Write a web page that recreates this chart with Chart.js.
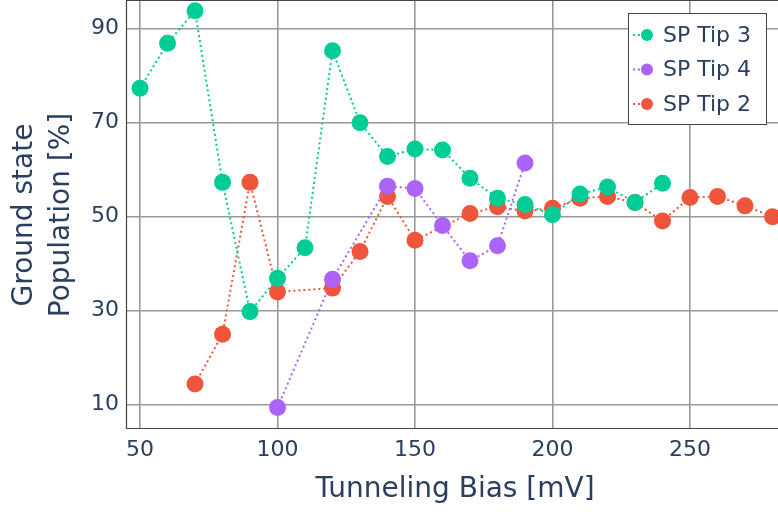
<!DOCTYPE html>
<html>
<head>
<meta charset="utf-8">
<script src="https://cdn.jsdelivr.net/npm/chart.js@4/dist/chart.umd.min.js"></script>
<style>
  html, body { margin: 0; padding: 0; background: #fff; }
  #wrap { width: 778px; height: 512px; position: relative; }
</style>
</head>
<body>
<div id="wrap"><canvas id="c" width="778" height="512"></canvas></div>
<script>
// Tunneling bias (mV) and ground-state population (%) per tip
const tip3Bias = [50, 60, 70, 80, 90, 100, 110, 120, 130, 140, 150, 160, 170, 180, 190, 200, 210, 220, 230, 240];
const tip3Pop  = [77.3, 86.9, 93.8, 57.3, 29.8, 36.9, 43.4, 85.3, 70.0, 62.8, 64.4, 64.2, 58.2, 53.9, 52.6, 50.4, 54.8, 56.3, 53.0, 57.1];

const tip4Bias = [100, 120, 140, 150, 160, 170, 180, 190];
const tip4Pop  = [9.4, 36.7, 56.5, 56.0, 48.1, 40.6, 43.8, 61.4];

const tip2Bias = [70, 80, 90, 100, 120, 130, 140, 150, 170, 180, 190, 200, 210, 220, 230, 240, 250, 260, 270, 280];
const tip2Pop  = [14.4, 25.0, 57.3, 34.0, 34.8, 42.6, 54.3, 45.0, 50.7, 52.1, 51.2, 51.8, 53.9, 54.3, 53.0, 49.1, 54.1, 54.3, 52.3, 50.0];

const seriesNames = ['SP Tip 3', 'SP Tip 4', 'SP Tip 2'];
const xTicks = [50, 100, 150, 200, 250];
const yTicks = [10, 30, 50, 70, 90];
const xTitle = 'Tunneling Bias [mV]';
const yTitle = ['Ground state', 'Population [%]'];

const FONT = '"DejaVu Sans", Verdana, sans-serif';
const TEXT = '#2a3f5f';
const COLORS = ['#00cc96', '#ab63fa', '#ef553b'];

function pts(xs, ys) { return xs.map((x, i) => ({ x: x, y: ys[i] })); }

function series(i, xs, ys) {
  return {
    label: seriesNames[i],
    data: pts(xs, ys),
    borderColor: COLORS[i],
    backgroundColor: COLORS[i],
    borderWidth: 2,
    borderDash: [2, 3],
    pointRadius: 8.5,
    pointHoverRadius: 8.5,
    pointBorderWidth: 0,
    showLine: true,
    tension: 0,
    clip: false
  };
}

// keep the plot box flush with the canvas edges
function noPad(s) {
  s.paddingTop = 0; s.paddingBottom = 0; s.paddingLeft = 0; s.paddingRight = 0;
}

// Frame, axis titles and the in-plot legend
const decorations = {
  id: 'decorations',
  afterDraw(chart) {
    const ctx = chart.ctx;
    const a = chart.chartArea;
    ctx.save();
    // frame lines
    ctx.strokeStyle = '#444';
    ctx.lineWidth = 1.2;
    ctx.beginPath();
    ctx.moveTo(a.left + 0.5, a.top + 0.5);
    ctx.lineTo(a.right, a.top + 0.5);
    ctx.moveTo(a.left + 0.5, a.top);
    ctx.lineTo(a.left + 0.5, a.bottom + 0.5);
    ctx.lineTo(a.right, a.bottom + 0.5);
    ctx.stroke();

    // axis titles
    ctx.fillStyle = TEXT;
    ctx.font = '28px ' + FONT;
    ctx.textAlign = 'center';
    ctx.textBaseline = 'middle';
    ctx.fillText(xTitle, 455, 490);
    ctx.save();
    ctx.translate(0, 215);
    ctx.rotate(-Math.PI / 2);
    ctx.fillText(yTitle[0], 0, 25);
    ctx.fillText(yTitle[1], 0, 62);
    ctx.restore();

    // legend box
    const bx = 628, by = 13, bw = 138, bh = 111;
    ctx.fillStyle = '#fff';
    ctx.fillRect(bx, by, bw, bh);
    ctx.strokeStyle = '#444';
    ctx.lineWidth = 1;
    ctx.strokeRect(bx + 0.5, by + 0.5, bw, bh);
    const rows = [35, 69.5, 104];
    chart.data.datasets.forEach((ds, i) => {
      const y = rows[i];
      ctx.strokeStyle = ds.borderColor;
      ctx.lineWidth = 2;
      ctx.setLineDash([2, 3]);
      ctx.beginPath();
      ctx.moveTo(633, y);
      ctx.lineTo(650, y);
      ctx.stroke();
      ctx.setLineDash([]);
      ctx.fillStyle = ds.backgroundColor;
      ctx.beginPath();
      ctx.arc(647, y, 6, 0, Math.PI * 2);
      ctx.fill();
      ctx.fillStyle = TEXT;
      ctx.font = '22px ' + FONT;
      ctx.textAlign = 'left';
      ctx.textBaseline = 'middle';
      ctx.fillText(ds.label, 663, y + 1);
    });
    ctx.restore();
  }
};

new Chart(document.getElementById('c'), {
  type: 'line',
  data: {
    datasets: [
      series(0, tip3Bias, tip3Pop),
      series(1, tip4Bias, tip4Pop),
      series(2, tip2Bias, tip2Pop)
    ]
  },
  options: {
    responsive: false,
    animation: false,
    events: [],
    layout: { padding: 0, autoPadding: false },
    plugins: { legend: { display: false }, tooltip: { enabled: false } },
    scales: {
      x: {
        type: 'linear',
        min: 44.9,
        max: 282,
        afterBuildTicks(s) { s.ticks = xTicks.map(v => ({ value: v })); },
        afterFit(s) { s.height = 84; noPad(s); },
        grid: { color: '#9a9a9a', lineWidth: 1.6, drawTicks: false },
        border: { display: false },
        ticks: { color: TEXT, font: { family: FONT, size: 22 }, padding: 9, maxRotation: 0, autoSkip: false }
      },
      y: {
        type: 'linear',
        min: 5.04,
        max: 96.1,
        afterBuildTicks(s) { s.ticks = yTicks.map(v => ({ value: v })); },
        afterFit(s) { s.width = 126; noPad(s); },
        grid: { color: '#9a9a9a', lineWidth: 1.6, drawTicks: false },
        border: { display: false },
        ticks: { color: TEXT, font: { family: FONT, size: 22 }, padding: 7 }
      }
    }
  },
  plugins: [decorations]
});
</script>
</body>
</html>
